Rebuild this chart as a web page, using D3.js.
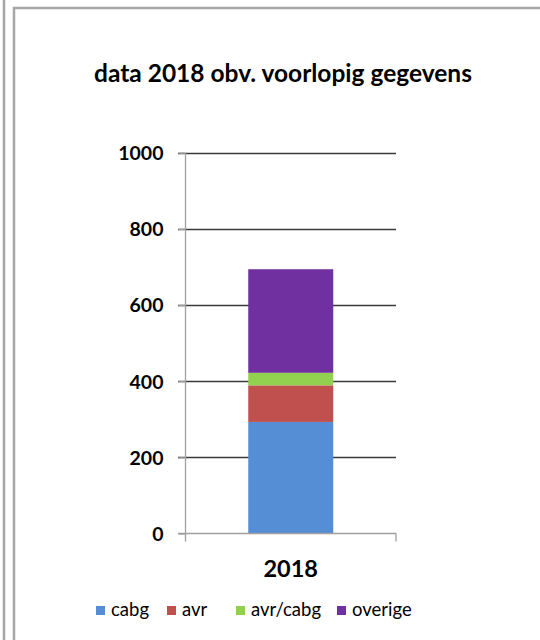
<!DOCTYPE html>
<html><head><meta charset="utf-8">
<script src="https://cdn.jsdelivr.net/npm/d3@7"></script>
<style>body{margin:0;background:#fff}svg{display:block}</style>
</head><body>
<script>
const categories = ["2018"];
const seriesNames = ["cabg", "avr", "avr/cabg", "overige"];
const seriesValues = { "cabg": [293], "avr": [96], "avr/cabg": [33], "overige": [272] };
const seriesColors = ["#558ED5", "#C0504D", "#92D050", "#7030A0"];
const yTicks = [0, 200, 400, 600, 800, 1000];
const title = "data 2018 obv. voorlopig gegevens";

const W = 540, H = 640;
const svg = d3.select("body").append("svg").attr("width", W).attr("height", H);
const font = "Lato, 'Open Sans', sans-serif";

// frame lines
svg.append("line").attr("x1",4).attr("x2",4).attr("y1",0).attr("y2",H).attr("stroke","#a6a6a6").attr("stroke-width",2.5);
svg.append("line").attr("x1",14).attr("x2",14).attr("y1",7).attr("y2",H).attr("stroke","#a6a6a6").attr("stroke-width",2.5);
svg.append("line").attr("x1",13).attr("x2",W).attr("y1",8).attr("y2",8).attr("stroke","#a6a6a6").attr("stroke-width",2.5);

svg.append("text").attr("x",283).attr("y",82).attr("text-anchor","middle")
  .attr("font-family",font).attr("font-weight","bold").attr("font-size",24.5).attr("fill","#000").text(title);

const x = d3.scaleBand().domain(categories).range([185.5, 396]).paddingInner(0.6).paddingOuter(0.3);
const y = d3.scaleLinear().domain([0, 1000]).range([533.5, 152.7]);

// gridlines
svg.append("g").selectAll("line").data(yTicks.filter(t=>t>0)).join("line")
  .attr("x1",178).attr("x2",396).attr("y1",d=>Math.round(y(d))+0.5).attr("y2",d=>Math.round(y(d))+0.5)
  .attr("stroke","#3a3a3a").attr("stroke-width",1.3);

// stacked bars
const rows = categories.map((c,i)=>{const r={cat:c}; seriesNames.forEach(s=>r[s]=seriesValues[s][i]); return r;});
const stack = d3.stack().keys(seriesNames)(rows);
const bw = 85;
svg.append("g").selectAll("g").data(stack).join("g").attr("fill",(d,i)=>seriesColors[i])
  .selectAll("rect").data(d=>d).join("rect")
  .attr("x",d=>x(d.data.cat)+x.bandwidth()/2-bw/2).attr("width",bw)
  .attr("y",d=>y(d[1])).attr("height",d=>y(d[0])-y(d[1]));

// y axis
const yAxis = d3.axisLeft(y).tickValues(yTicks).tickSize(7).tickPadding(15).tickFormat(d3.format("d"));
const gy = svg.append("g").attr("transform","translate(185.5,0)").call(yAxis);
gy.select(".domain").attr("stroke","#a0a0a0").attr("stroke-width",1.3).attr("d","M0,152.7V533.5");
gy.selectAll(".tick line").attr("stroke","#a0a0a0").attr("stroke-width",1.3);
gy.selectAll(".tick text").attr("font-family",font).attr("font-weight","bold").attr("font-size",19.5).attr("fill","#000").attr("dy","0.35em");

// x axis
const gx = svg.append("g").attr("transform","translate(0,533.5)");
gx.append("line").attr("x1",178).attr("x2",396).attr("stroke","#a0a0a0").attr("stroke-width",1.3);
[185.5, 396].forEach(px=>gx.append("line").attr("x1",px).attr("x2",px).attr("y1",0).attr("y2",8).attr("stroke","#a0a0a0").attr("stroke-width",1.3));
gx.selectAll("text").data(categories).join("text").attr("x",d=>x(d)+x.bandwidth()/2).attr("y",43)
  .attr("text-anchor","middle").attr("font-family",font).attr("font-weight","bold").attr("font-size",23.5).attr("fill","#000").text(d=>d);

// legend
const legX = [96, 167, 236, 337];
const leg = svg.append("g").selectAll("g").data(seriesNames).join("g").attr("transform",(d,i)=>`translate(${legX[i]},606)`);
leg.append("rect").attr("width",9).attr("height",9).attr("fill",(d,i)=>seriesColors[i]);
leg.append("text").attr("x",15).attr("y",10).attr("font-family",font).attr("font-size",18.5).attr("fill","#000").text(d=>d);
</script>
</body></html>
